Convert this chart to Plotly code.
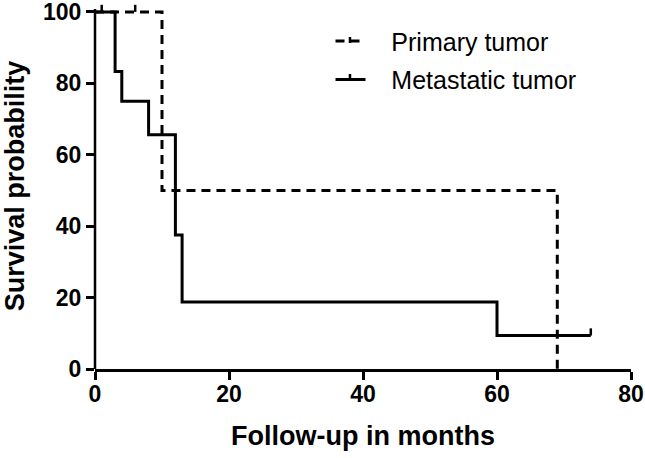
import plotly.graph_objects as go

# Kaplan-Meier step data (months, survival %)
primary_x = [0, 10, 69]
primary_y = [100, 50, 0]
primary_censor_x = [1, 6]
primary_censor_y = [100, 100]

metastatic_x = [0, 3, 4, 8, 12, 13, 60, 74]
metastatic_y = [100, 83.33, 75, 65.63, 37.5, 18.75, 9.38, 9.38]
metastatic_censor_x = [74]
metastatic_censor_y = [9.38]

x_ticks = [0, 20, 40, 60, 80]
y_ticks = [0, 20, 40, 60, 80, 100]

TICK_H = 2.0  # censor tick height in y units
PAD = "\u00a0\u00a0\u00a0"


def censor_segments(xs, ys):
    sx, sy = [], []
    for cx, cy in zip(xs, ys):
        sx += [cx, cx, None]
        sy += [cy, cy + TICK_H, None]
    return sx, sy


fig = go.Figure()
fig.add_trace(go.Scatter(
    x=primary_x, y=primary_y, mode="lines", line_shape="hv",
    name=PAD + "Primary tumor", legendgroup="p",
    line=dict(color="black", width=3, dash="9px,6px"),
))
fig.add_trace(go.Scatter(
    x=metastatic_x, y=metastatic_y, mode="lines", line_shape="hv",
    name=PAD + "Metastatic tumor", legendgroup="m",
    line=dict(color="black", width=3),
))
px_, py_ = censor_segments(primary_censor_x, primary_censor_y)
fig.add_trace(go.Scatter(x=px_, y=py_, mode="lines", showlegend=False,
                         line=dict(color="black", width=2.5)))
mx_, my_ = censor_segments(metastatic_censor_x, metastatic_censor_y)
fig.add_trace(go.Scatter(x=mx_, y=my_, mode="lines", showlegend=False,
                         line=dict(color="black", width=2.5)))

axis_common = dict(
    linecolor="black", linewidth=2.5, automargin=False,
    ticks="outside", ticklen=8, tickwidth=2.5, tickcolor="black",
    showgrid=False, zeroline=False, ticklabeloverflow="allow",
    tickfont=dict(family="Liberation Sans", size=23, color="black", weight="bold"),
)

fig.update_layout(
    template="none",
    width=645, height=458,
    margin=dict(l=95, r=14, t=3, b=89),
    paper_bgcolor="white", plot_bgcolor="white",
    font=dict(family="Liberation Sans", color="black"),
    xaxis=dict(range=[0, 80], tickvals=x_ticks, showline=True, ticklabelstandoff=-5,
               title=dict(text="Follow-up in months", standoff=20,
                          font=dict(family="Liberation Sans", size=27, weight="bold")),
               **axis_common),
    yaxis=dict(range=[0, 102.5], tickvals=y_ticks, showline=False,
               title=dict(text="Survival probability", standoff=25,
                          font=dict(family="Liberation Sans", size=27, weight="bold")),
               **axis_common),
    legend=dict(x=0.4394, y=0.958, xanchor="left", yanchor="top",
                font=dict(family="Liberation Sans", size=25, color="black"),
                bgcolor="rgba(0,0,0,0)", tracegroupgap=3, traceorder="grouped"),
    showlegend=True,
    shapes=[
        # y-axis line, ending just above the 100 tick
        dict(type="line", xref="paper", yref="y", x0=0, x1=0, y0=0, y1=100.8,
             line=dict(color="black", width=2.5)),
        # censor ticks inside the legend samples
        dict(type="line", xref="paper", yref="paper", x0=0.4757, x1=0.4757,
             y0=0.8907, y1=0.9071, line=dict(color="black", width=2.5)),
        dict(type="line", xref="paper", yref="paper", x0=0.4757, x1=0.4757,
             y0=0.7896, y1=0.806, line=dict(color="black", width=2.5)),
    ],
)

fig.write_html("out.html", config={"displayModeBar": False},
               post_script="document.body.style.margin='0px';")
